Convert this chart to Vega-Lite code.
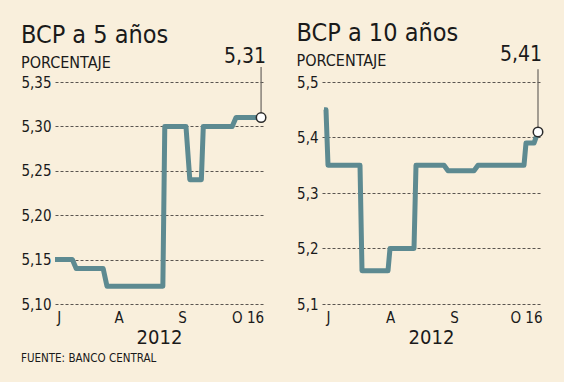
{
  "$schema": "https://vega.github.io/schema/vega-lite/v6.json",
  "background": "#f9efdc",
  "padding": {"left": 20, "top": 20, "right": 25, "bottom": 17},
  "spacing": 27,
  "title": {"text": "FUENTE: BANCO CENTRAL", "orient": "bottom", "anchor": "start", "frame": "bounds", "fontSize": 11.5, "fontWeight": "normal", "color": "#1a1a1a", "offset": 6},
  "datasets": {
    "bcp5": [
      {"fecha": "2012-07-01", "tasa": 5.15},
      {"fecha": "2012-07-10", "tasa": 5.15},
      {"fecha": "2012-07-12", "tasa": 5.14},
      {"fecha": "2012-07-26", "tasa": 5.14},
      {"fecha": "2012-07-28", "tasa": 5.12},
      {"fecha": "2012-08-26", "tasa": 5.12},
      {"fecha": "2012-08-27", "tasa": 5.30},
      {"fecha": "2012-09-07", "tasa": 5.30},
      {"fecha": "2012-09-09", "tasa": 5.24},
      {"fecha": "2012-09-15", "tasa": 5.24},
      {"fecha": "2012-09-16", "tasa": 5.30},
      {"fecha": "2012-10-01", "tasa": 5.30},
      {"fecha": "2012-10-03", "tasa": 5.31},
      {"fecha": "2012-10-16", "tasa": 5.31}
    ],
    "bcp10": [
      {"fecha": "2012-07-01", "tasa": 5.45},
      {"fecha": "2012-07-02", "tasa": 5.45},
      {"fecha": "2012-07-03", "tasa": 5.35},
      {"fecha": "2012-07-19", "tasa": 5.35},
      {"fecha": "2012-07-20", "tasa": 5.16},
      {"fecha": "2012-08-02", "tasa": 5.16},
      {"fecha": "2012-08-03", "tasa": 5.20},
      {"fecha": "2012-08-15", "tasa": 5.20},
      {"fecha": "2012-08-16", "tasa": 5.35},
      {"fecha": "2012-08-30", "tasa": 5.35},
      {"fecha": "2012-09-01", "tasa": 5.34},
      {"fecha": "2012-09-14", "tasa": 5.34},
      {"fecha": "2012-09-16", "tasa": 5.35},
      {"fecha": "2012-10-09", "tasa": 5.35},
      {"fecha": "2012-10-10", "tasa": 5.39},
      {"fecha": "2012-10-14", "tasa": 5.39},
      {"fecha": "2012-10-16", "tasa": 5.41}
    ]
  },
  "hconcat": [
    {
      "width": 208,
      "height": 222,
      "title": {"text": "BCP a 5 años", "subtitle": "PORCENTAJE"},
      "data": {"name": "bcp5"},
      "encoding": {
        "x": {
          "field": "fecha", "type": "temporal",
          "scale": {"type": "utc", "domain": [{"year": 2012, "month": 7, "date": 1, "utc": true}, {"year": 2012, "month": 10, "date": 17, "utc": true}]},
          "axis": {
            "values": [{"year": 2012, "month": 7, "date": 3, "utc": true}, {"year": 2012, "month": 8, "date": 3, "utc": true}, {"year": 2012, "month": 9, "date": 5, "utc": true}, {"year": 2012, "month": 10, "date": 9, "utc": true}],
            "labelExpr": "utcmonth(datum.value) == 6 ? 'J' : utcmonth(datum.value) == 7 ? 'A' : utcmonth(datum.value) == 8 ? 'S' : 'O 16'",
            "title": "2012", "grid": false
          }
        },
        "y": {
          "field": "tasa", "type": "quantitative",
          "scale": {"domain": [5.10, 5.35], "zero": false, "nice": false},
          "axis": {"values": [5.10, 5.15, 5.20, 5.25, 5.30, 5.35], "format": ".2f", "title": null}
        }
      },
      "layer": [
        {"mark": {"type": "line", "color": "#5d8a91", "strokeWidth": 5, "strokeJoin": "round"}},
        {
          "transform": [{"joinaggregate": [{"op": "max", "field": "fecha", "as": "ult"}]}, {"filter": "time(datum.fecha) === time(datum.ult)"}],
          "mark": {"type": "rule", "color": "#6a6560", "strokeWidth": 1.2},
          "encoding": {"y2": {"datum": 5.367}}
        },
        {
          "transform": [{"joinaggregate": [{"op": "max", "field": "fecha", "as": "ult"}]}, {"filter": "time(datum.fecha) === time(datum.ult)"}],
          "mark": {"type": "point", "filled": true, "fill": "white", "stroke": "#2a2a2a", "strokeWidth": 1.5, "size": 90, "opacity": 1}
        },
        {
          "transform": [{"joinaggregate": [{"op": "max", "field": "fecha", "as": "ult"}]}, {"filter": "time(datum.fecha) === time(datum.ult)"}],
          "mark": {"type": "text", "align": "right", "baseline": "alphabetic", "dx": 5, "dy": -55, "fontSize": 21, "color": "#1a1a1a"},
          "encoding": {"text": {"field": "tasa", "type": "quantitative", "format": ".2f"}}
        }
      ]
    },
    {
      "width": 218,
      "height": 222,
      "title": {"text": "BCP a 10 años", "subtitle": "PORCENTAJE"},
      "data": {"name": "bcp10"},
      "encoding": {
        "x": {
          "field": "fecha", "type": "temporal",
          "scale": {"type": "utc", "domain": [{"year": 2012, "month": 6, "date": 30, "utc": true}, {"year": 2012, "month": 10, "date": 17, "utc": true}]},
          "axis": {
            "values": [{"year": 2012, "month": 7, "date": 3, "utc": true}, {"year": 2012, "month": 8, "date": 3, "utc": true}, {"year": 2012, "month": 9, "date": 4, "utc": true}, {"year": 2012, "month": 10, "date": 10, "utc": true}],
            "labelExpr": "utcmonth(datum.value) == 6 ? 'J' : utcmonth(datum.value) == 7 ? 'A' : utcmonth(datum.value) == 8 ? 'S' : 'O 16'",
            "title": "2012", "grid": false
          }
        },
        "y": {
          "field": "tasa", "type": "quantitative",
          "scale": {"domain": [5.1, 5.5], "zero": false, "nice": false},
          "axis": {"values": [5.1, 5.2, 5.3, 5.4, 5.5], "format": ".1f", "title": null}
        }
      },
      "layer": [
        {"mark": {"type": "line", "color": "#5d8a91", "strokeWidth": 5, "strokeJoin": "round"}},
        {
          "transform": [{"joinaggregate": [{"op": "max", "field": "fecha", "as": "ult"}]}, {"filter": "time(datum.fecha) === time(datum.ult)"}],
          "mark": {"type": "rule", "color": "#6a6560", "strokeWidth": 1.2},
          "encoding": {"y2": {"datum": 5.523}}
        },
        {
          "transform": [{"joinaggregate": [{"op": "max", "field": "fecha", "as": "ult"}]}, {"filter": "time(datum.fecha) === time(datum.ult)"}],
          "mark": {"type": "point", "filled": true, "fill": "white", "stroke": "#2a2a2a", "strokeWidth": 1.5, "size": 90, "opacity": 1}
        },
        {
          "transform": [{"joinaggregate": [{"op": "max", "field": "fecha", "as": "ult"}]}, {"filter": "time(datum.fecha) === time(datum.ult)"}],
          "mark": {"type": "text", "align": "right", "baseline": "alphabetic", "dx": 4, "dy": -71, "fontSize": 21, "color": "#1a1a1a"},
          "encoding": {"text": {"field": "tasa", "type": "quantitative", "format": ".2f"}}
        }
      ]
    }
  ],
  "config": {
    "font": "DejaVu Sans Condensed",
    "locale": {"number": {"decimal": ",", "thousands": ".", "grouping": [3], "currency": ["", " €"]}},
    "view": {"stroke": null},
    "axis": {
      "domain": false, "ticks": false,
      "labelFont": "DejaVu Sans Condensed", "labelFontSize": 15, "labelColor": "#1a1a1a", "labelPadding": 4,
      "labelFlush": false, "labelOverlap": false,
      "gridColor": "#5a5550", "gridDash": [3, 2], "gridWidth": 1, "gridOpacity": 1,
      "titleFont": "DejaVu Sans Condensed", "titleFontSize": 20, "titleFontWeight": "normal", "titleColor": "#1a1a1a", "titlePadding": 2
    },
    "axisX": {"labelPadding": 6},
    "title": {
      "anchor": "start", "frame": "bounds", "font": "DejaVu Sans Condensed", "fontSize": 25, "fontWeight": "normal", "color": "#1a1a1a",
      "subtitleFont": "DejaVu Sans Condensed", "subtitleFontSize": 16, "subtitleColor": "#1a1a1a", "subtitlePadding": 7, "offset": -25
    }
  }
}
